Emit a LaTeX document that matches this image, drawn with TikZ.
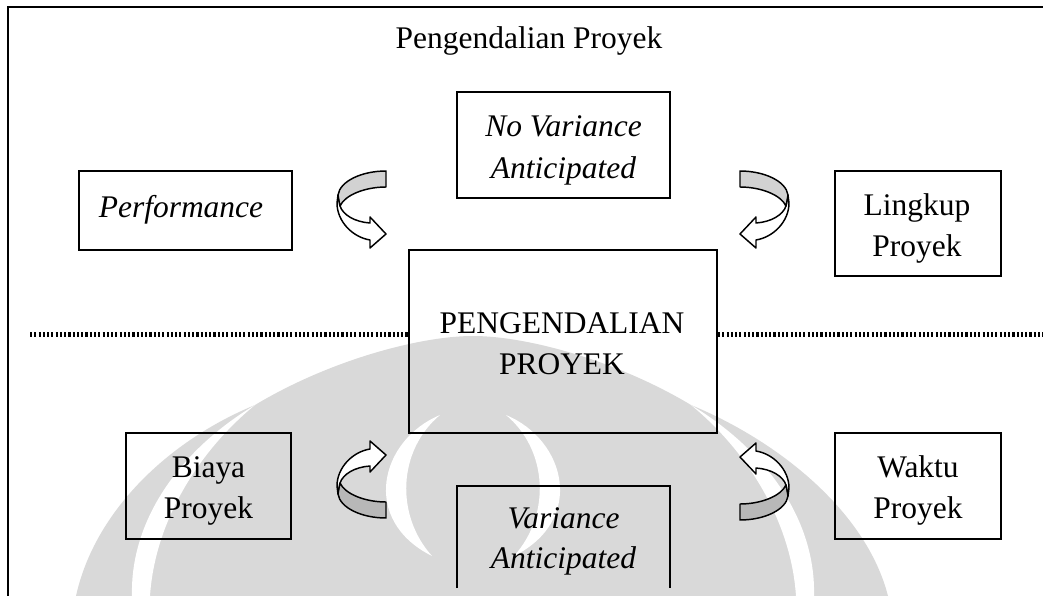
\documentclass[tikz,border=0pt]{standalone}
\usepackage{fontspec}
\setmainfont{Liberation Serif}
\definecolor{wm}{HTML}{D9D9D9}
\definecolor{bandl}{HTML}{D2D2D2}
\definecolor{bandd}{HTML}{B8B8B8}
\tikzset{
  boxshape/.style={draw=black, line width=1.5pt, inner sep=0pt},
  txt/.style={inner sep=0pt, anchor=base, font=\fontsize{23.6pt}{30pt}\selectfont},
  divider/.style={line width=3.2pt, dash pattern=on 1.6pt off 1.6pt},
  pics/curvarrow/.style={code={
    \path[draw=black, line width=1.1pt, fill=white, line join=round]
      (1,24) -- (0,32) .. controls (0,50) and (15,66) .. (33,69) -- (33,77) -- (49,63) -- (33,46) -- (33,52)
      .. controls (18,51) and (6,44) .. (3,35) -- cycle;
    \path[draw=black, line width=1.1pt, fill=#1, line join=round]
      (49,0) .. controls (25,0) and (3,10) .. (1,24) -- (3,35) .. controls (8,24) and (28,16) .. (49,16) -- cycle;
  }},
}
\begin{document}
\begin{tikzpicture}[x=0.75pt,y=-0.75pt]
\useasboundingbox (0,0) rectangle (1043,596);
% watermark
\fill[wm] (76,596) .. controls (95,510) and (170,440) .. (255,405)
  .. controls (330,360) and (420,336) .. (473,336)
  .. controls (526,336) and (616,360) .. (691,405)
  .. controls (776,440) and (866,510) .. (888,596) -- cycle;
\fill[white] (255,405) .. controls (180,450) and (130,520) .. (132,596) -- (150,596) .. controls (155,520) and (200,450) .. (255,405) -- cycle;
\fill[white] (691,405) .. controls (766,450) and (816,520) .. (814,596) -- (796,596) .. controls (791,520) and (746,450) .. (691,405) -- cycle;
\fill[white] (440,415) .. controls (380,440) and (360,520) .. (432,556) .. controls (395,515) and (398,450) .. (440,415) -- cycle;
\fill[white] (506,415) .. controls (566,440) and (586,520) .. (514,556) .. controls (551,515) and (548,450) .. (506,415) -- cycle;
% frame
\draw[line width=1.6pt] (8,596) -- (8,7) -- (1043,7);
% title
\node[txt] (title) at (529,48) {Pengendalian Proyek};
% boxes
\node[boxshape, minimum width=159.75pt, minimum height=79.5pt] (nova) at (563.5,145) {};
\node[txt] (nova1) at (563.5,136) {\itshape No Variance};
\node[txt] (nova2) at (563.5,178) {\itshape Anticipated};
\node[boxshape, minimum width=159.75pt, minimum height=59.25pt] (perf) at (185,210.5) {};
\node[txt] (perf1) at (181,217.5) {\itshape Performance};
\node[boxshape, minimum width=124.5pt, minimum height=78.75pt] (ling) at (918,223.5) {};
\node[txt] (ling1) at (917,215.5) {Lingkup};
\node[txt] (ling2) at (917,256.5) {Proyek};
\node[boxshape, minimum width=231pt, minimum height=137.25pt] (peng) at (563,341.5) {};
\node[txt] (peng1) at (562,333.5) {PENGENDALIAN};
\node[txt] (peng2) at (562,374.5) {PROYEK};
\node[boxshape, minimum width=123.75pt, minimum height=79.5pt] (biaya) at (208.5,486) {};
\node[txt] (biaya1) at (208.5,477.5) {Biaya};
\node[txt] (biaya2) at (208.5,518.5) {Proyek};
\node[boxshape, minimum width=124.5pt, minimum height=79.5pt] (waktu) at (918,486) {};
\node[txt] (waktu1) at (918,477.5) {Waktu};
\node[txt] (waktu2) at (918,518.5) {Proyek};
\coordinate (varTL) at (457,486);
\coordinate (varTR) at (670,486);
\draw[line width=1.5pt] (varTL |- 0,588) -- (varTL) -- (varTR) -- (varTR |- 0,588);
\node[txt] (var1) at (563.5,528) {\itshape Variance};
\node[txt] (var2) at (563.5,568) {\itshape Anticipated};
% dotted divider
\coordinate (dl) at (30,334.5);
\coordinate (dr) at (1043,334.5);
\draw[divider] (dl) -- (dl -| peng.west);
\draw[divider] (dr -| peng.east) -- (dr);
% curved arrows
\pic at (337,171) {curvarrow=bandl};
\pic[xscale=-1] at (789,171) {curvarrow=bandl};
\pic[yscale=-1] at (337,518) {curvarrow=bandd};
\pic[xscale=-1,yscale=-1] at (789,520) {curvarrow=bandd};
\end{tikzpicture}
\end{document}
